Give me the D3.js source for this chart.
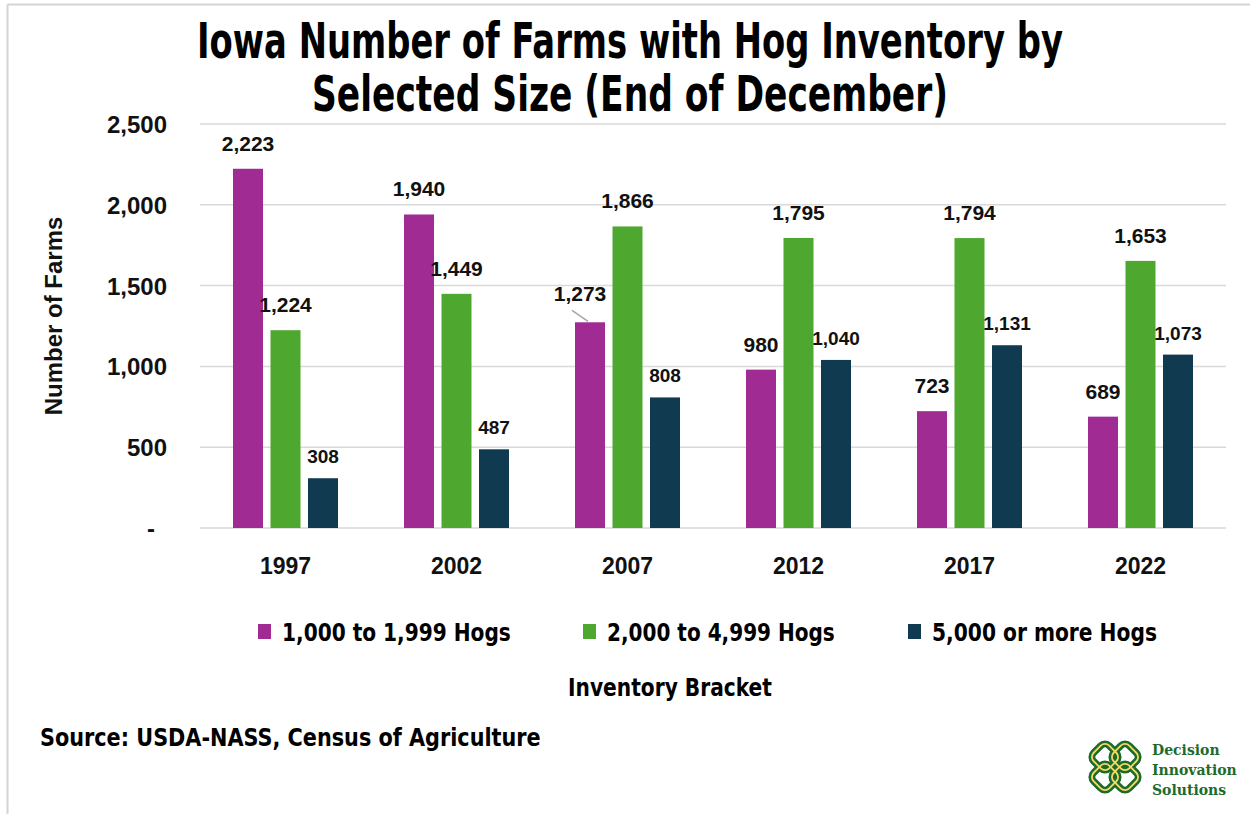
<!DOCTYPE html>
<html>
<head>
<meta charset="utf-8">
<script src="https://cdn.jsdelivr.net/npm/d3@7"></script>
<style>
  html, body { margin: 0; padding: 0; background: #fff; }
  svg { display: block; }
  .narrow { font-family: "Liberation Sans Narrow", "DejaVu Sans Condensed", "Roboto Condensed", Arial, sans-serif; font-weight: bold; font-stretch: condensed; }
  .arial { font-family: "Liberation Sans", Arial, sans-serif; font-weight: bold; }
</style>
</head>
<body>
<svg id="chart" width="1250" height="814"></svg>
<script>
// Census years
const years = ["1997", "2002", "2007", "2012", "2017", "2022"];
// Inventory brackets
const brackets = ["1,000 to 1,999 Hogs", "2,000 to 4,999 Hogs", "5,000 or more Hogs"];
// Number of farms per bracket, by year
const farms1000to1999 = [2223, 1940, 1273, 980, 723, 689];
const farms2000to4999 = [1224, 1449, 1866, 1795, 1794, 1653];
const farms5000plus   = [308, 487, 808, 1040, 1131, 1073];
const yTicks = [0, 500, 1000, 1500, 2000, 2500];
const colors = ["#A02B93", "#4EA72E", "#0F3A4F"];

const seriesValues = [farms1000to1999, farms2000to4999, farms5000plus];
const rows = years.map((y, i) => ({ year: y, values: seriesValues.map(s => s[i]) }));

const svg = d3.select("#chart");

// Compress a text horizontally so it spans the given width, keeping its anchor point fixed.
function squeeze(sel, targetW, anchorX) {
  const w = sel.node().getComputedTextLength();
  const s = Math.min(1, targetW / w);
  sel.attr("transform", `translate(${anchorX},0) scale(${s},1) translate(${-anchorX},0)`);
  return sel;
}

// frame edges
svg.append("line").attr("x1", 7.5).attr("x2", 1250).attr("y1", 4.5).attr("y2", 4.5)
  .attr("stroke", "#d4d4d4").attr("stroke-width", 2);
svg.append("line").attr("x1", 7.5).attr("x2", 7.5).attr("y1", 4.5).attr("y2", 814)
  .attr("stroke", "#d4d4d4").attr("stroke-width", 2);

const plot = { left: 200, right: 1226, top: 124, bottom: 528 };

const x0 = d3.scaleBand().domain(years).range([plot.left, plot.right]).padding(0);
const x1 = d3.scaleBand().domain(d3.range(3)).range([33, 138]).paddingInner(0.2).paddingOuter(0);
const y = d3.scaleLinear().domain([0, 2500]).range([plot.bottom, plot.top]);

// gridlines
svg.append("g").selectAll("line").data(yTicks).join("line")
  .attr("x1", plot.left).attr("x2", plot.right)
  .attr("y1", d => y(d)).attr("y2", d => y(d))
  .attr("stroke", "#d9d9d9").attr("stroke-width", 1.5);

// y axis labels
const yAxis = svg.append("g").attr("transform", `translate(167,0)`)
  .call(d3.axisLeft(y).tickValues(yTicks).tickSize(0).tickPadding(0)
    .tickFormat(d => d === 0 ? "-" : d3.format(",")(d)));
yAxis.select(".domain").remove();
yAxis.selectAll("text").attr("class", "arial").attr("font-size", 24).attr("fill", "#111")
  .attr("dy", "0.35em")
  .attr("dx", d => d === 0 ? -12 : 0);

svg.append("text").attr("class", "arial")
  .attr("transform", "translate(62,316) rotate(-90)")
  .attr("text-anchor", "middle").attr("font-size", 24).attr("fill", "#111")
  .text("Number of Farms");

// x axis labels
const xAxis = svg.append("g").attr("transform", `translate(0,${plot.bottom})`)
  .call(d3.axisBottom(x0).tickSize(0).tickPadding(0));
xAxis.select(".domain").remove();
xAxis.selectAll("text").attr("class", "arial").attr("font-size", 23).attr("fill", "#111")
  .attr("y", 46).attr("dy", 0);

// bars
const groups = svg.append("g").selectAll("g").data(rows).join("g")
  .attr("transform", d => `translate(${x0(d.year)},0)`);

groups.selectAll("rect").data(d => d.values.map((v, k) => ({ k, v, year: d.year }))).join("rect")
  .attr("x", d => x1(d.k)).attr("width", x1.bandwidth())
  .attr("y", d => y(d.v)).attr("height", d => y(0) - y(d.v))
  .attr("fill", d => colors[d.k]);

// value labels
const isOffset = d => d.year === "2007" && d.k === 0;
groups.selectAll("text.val").data(d => d.values.map((v, k) => ({ k, v, year: d.year }))).join("text")
  .attr("class", "val arial")
  .attr("text-anchor", "middle")
  .attr("font-size", d => d.k === 2 ? 19 : 21)
  .attr("fill", "#111")
  .attr("x", d => x1(d.k) + x1.bandwidth() / 2 + (isOffset(d) ? -10 : 0))
  .attr("y", d => y(d.v) - (isOffset(d) ? 21 : d.k === 2 ? 15 : 18))
  .text(d => d3.format(",")(d.v));

// leader line for the 2007 small-herd label
groups.filter(d => d.year === "2007").append("line")
  .attr("x1", x1(0) + x1.bandwidth() / 2 - 18)
  .attr("y1", d => y(d.values[0]) - 12)
  .attr("x2", x1(0) + x1.bandwidth() / 2 - 2)
  .attr("y2", d => y(d.values[0]) - 1)
  .attr("stroke", "#a6a6a6").attr("stroke-width", 1.5);

// title
const titleLines = [
  { text: "Iowa Number of Farms with Hog Inventory by", y: 58, w: 866 },
  { text: "Selected Size (End of December)", y: 111, w: 636 }
];
titleLines.forEach(l => {
  const t = svg.append("text").attr("class", "narrow").attr("text-anchor", "middle")
    .attr("font-size", 49).attr("fill", "#000")
    .attr("x", 630).attr("y", l.y).text(l.text);
  squeeze(t, l.w, 630);
});

// legend
const legendX = [258, 583, 908];
const legendW = [229, 228, 225];
brackets.forEach((b, i) => {
  svg.append("rect").attr("x", legendX[i]).attr("y", 624).attr("width", 13).attr("height", 15)
    .attr("fill", colors[i]);
  const t = svg.append("text").attr("class", "narrow").attr("x", legendX[i] + 24).attr("y", 641)
    .attr("font-size", 24).attr("fill", "#000").text(b);
  squeeze(t, legendW[i], legendX[i] + 24);
});

squeeze(svg.append("text").attr("class", "narrow").attr("x", 670).attr("y", 696)
  .attr("text-anchor", "middle").attr("font-size", 24).attr("fill", "#000")
  .text("Inventory Bracket"), 204, 670);

squeeze(svg.append("text").attr("class", "narrow").attr("x", 40).attr("y", 746)
  .attr("font-size", 24).attr("fill", "#000")
  .text("Source: USDA-NASS, Census of Agriculture"), 501, 40);

// logo
const logo = svg.append("g").attr("transform", "translate(1115,767)");
const knot = [[-10, -10], [10, -10], [10, 10], [-10, 10]];
knot.forEach(([dx, dy]) => {
  logo.append("rect").attr("x", dx - 11).attr("y", dy - 11).attr("width", 22).attr("height", 22)
    .attr("rx", 6).attr("fill", "none").attr("stroke", "#1d6b2c").attr("stroke-width", 7)
    .attr("transform", `rotate(45 ${dx} ${dy})`);
});
knot.forEach(([dx, dy]) => {
  logo.append("rect").attr("x", dx - 11).attr("y", dy - 11).attr("width", 22).attr("height", 22)
    .attr("rx", 6).attr("fill", "none").attr("stroke", "#f3d862").attr("stroke-width", 1.8)
    .attr("transform", `rotate(45 ${dx} ${dy})`);
});
const logoText = svg.append("text").attr("font-family", "'DejaVu Serif', 'Liberation Serif', serif")
  .attr("font-weight", "bold").attr("font-size", 14).attr("fill", "#1d6b2c");
["Decision", "Innovation", "Solutions"].forEach((t, i) => {
  logoText.append("tspan").attr("x", 1152).attr("y", 755 + i * 20).text(t);
});
</script>
</body>
</html>
